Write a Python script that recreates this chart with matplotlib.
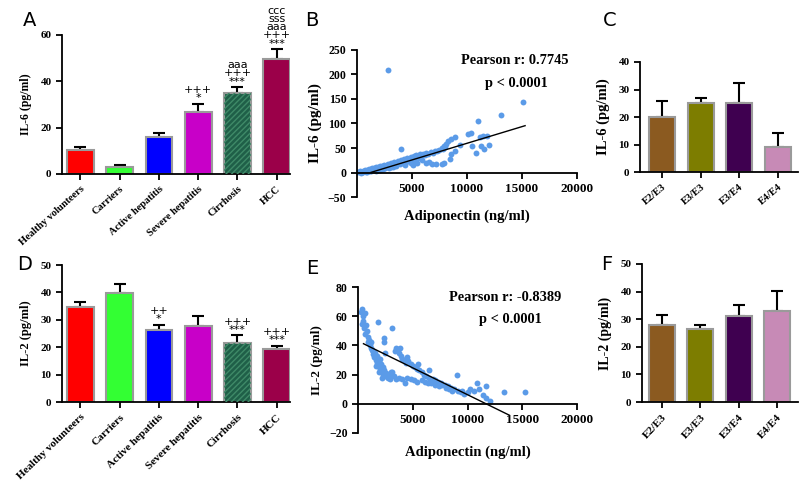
import numpy as np
import matplotlib.pyplot as plt

# --- data ---
groups = ['Healthy volunteers', 'Carriers', 'Active hepatitis', 'Severe hepatitis', 'Cirrhosis', 'HCC']
group_colors = ['#ff0000', '#33ff33', '#0000ff', '#c800c8', '#1f5f48', '#9b0049']
genotypes = ['E2/E3', 'E3/E3', 'E3/E4', 'E4/E4']
geno_colors = ['#8b5a20', '#7d7d00', '#3f0050', '#c78ab6']

il6_mean = [10.4, 3.2, 15.8, 26.6, 34.8, 49.5]
il6_top = [11.8, 3.9, 17.8, 30.2, 37.4, 53.8]
il6_notes = [[], [], [], ['*', '+++'], ['***', '+++', 'aaa'], ['***', '+++', 'aaa', 'sss', 'ccc']]

il2_mean = [34.5, 39.7, 26.3, 27.7, 21.7, 19.2]
il2_top = [36.5, 43.0, 28.2, 31.5, 24.3, 20.6]
il2_notes = [[], [], ['*', '++'], [], ['***', '+++'], ['***', '+++']]

geno_il6_mean = [20.0, 25.0, 25.2, 9.2]
geno_il6_top = [26.0, 27.0, 32.5, 14.3]
geno_il2_mean = [28.0, 26.5, 31.2, 33.0]
geno_il2_top = [31.5, 27.8, 35.0, 40.3]

# adiponectin vs IL-6 (panel B)
b_x = [150, 300, 400, 500, 600, 700, 800, 900, 1000, 1100, 1200, 1300, 1400, 1500, 1600, 1700,
       1800, 1900, 2000, 2100, 2200, 2300, 2400, 2500, 2600, 2700, 2800, 2900, 3000, 3100, 3200,
       3300, 3400, 3500, 3600, 3700, 3800, 3900, 4000, 4100, 4200, 4300, 4400, 4500, 4600, 4700,
       4800, 4900, 5000, 5200, 5300, 5400, 5600, 5700, 5800, 6000, 6200, 6300, 6500, 6700, 6900,
       7100, 7300, 7500, 7700, 7800, 7900, 8000, 8100, 8300, 8600, 8900, 9400,
       5100, 5500, 5900, 6300, 6600, 6800, 7200, 7700, 7900, 8450, 8600, 8900,
       10100, 10400, 11000, 11200, 11500, 11800, 10500, 11250, 12050, 11550, 10800, 13150, 15150,
       2850, 4050, 600, 900, 1300, 1700, 2100, 2600, 3100, 3600, 4400, 4900]
b_y = [1, 3, 0, 2, 4, 6, 2, 5, 4, 8, 3, 7, 10, 5, 9, 12,
       6, 11, 8, 14, 10, 13, 7, 16, 12, 15, 18, 10, 14, 20, 17,
       12, 22, 18, 15, 24, 20, 17, 26, 22, 19, 28, 24, 21, 30, 26,
       23, 31, 28, 33, 25, 35, 30, 37, 33, 38, 35, 40, 38, 42, 40,
       44, 43, 46, 50, 47, 55, 52, 58, 65, 69, 72, 57,
       16, 19, 26, 20, 22, 17, 17, 18, 20, 28, 37, 43,
       79, 81, 106, 72, 74, 75, 55, 55, 57, 47, 40, 118, 143,
       210, 47, 1, 2, 3, 4, 6, 9, 11, 13, 16, 19]
b_fit = (0.0068, -8.5)
b_fit_range = (1300, 15300)

# adiponectin vs IL-2 (panel E)
e_x = [300, 400, 450, 500, 350, 600, 550, 700, 650, 800, 900, 950, 1000, 1100, 1150, 1200,
       1300, 1350, 1400, 1500, 1550, 1600, 1700, 1750, 1800, 1900, 2000, 2100, 2150, 2250,
       2300, 2400, 2500, 2600, 2700, 2800, 2900, 3000, 1600, 1900, 2200, 2000,
       1850, 3100, 2400, 2400, 2500,
       3400, 3500, 3600, 3700, 3800, 3900, 4000, 4200, 4400, 4600, 4800, 5000, 5200, 5400,
       5600, 5800, 6000, 6200, 6500, 6800, 7000, 7300, 7600, 7900, 8200, 8500, 8800, 9100,
       9400, 9700, 6500, 5500, 4500,
       3100, 3300, 3500, 3700, 4000, 4270, 4500, 4800, 5100, 5400, 5800, 6100, 6400, 6700,
       7000, 7400, 7700, 8000, 8300, 8600,
       9000, 10200, 10600, 11000, 10900, 11700, 11400, 11700, 12000, 13350, 15200, 9500, 10000]
e_y = [63, 65, 60, 57, 55, 62, 52, 54, 48, 50, 46, 42, 44, 40, 38, 42,
       37, 34, 36, 32, 35, 30, 28, 33, 26, 30, 24, 27, 22, 25,
       20, 23, 19, 21, 18, 20, 17, 22, 26, 22, 18, 31,
       56, 52, 45, 42, 35,
       36, 38, 37, 35, 38, 33, 31, 30, 28, 29, 27, 26, 25, 24,
       23, 22, 20, 19, 18, 17, 16, 15, 14, 13, 12, 11, 10, 9,
       8, 7, 23, 27, 32,
       22, 19, 17, 18, 17, 14, 18, 17, 16, 15, 16, 15, 14, 14,
       13, 12, 13, 11, 10, 9,
       20, 10, 9, 10, 14, 12, 6, 4, 2, 8, 8, 9, 8]
e_fit = (-0.00368, 43.0)
e_fit_range = (500, 13800)

serif = 'Liberation Serif'
dot_color = '#5b9be8'

fig = plt.figure(figsize=(8, 4.94), dpi=100)


def style_axes(ax, ytick_size):
    for s in ['top', 'right']:
        ax.spines[s].set_visible(False)
    for s in ['left', 'bottom']:
        ax.spines[s].set_linewidth(1.3)
    ax.tick_params(direction='out', length=4, width=1.3)
    for lab in ax.get_yticklabels():
        lab.set_fontfamily(serif)
        lab.set_fontweight('bold')
        lab.set_fontsize(ytick_size)


def bar_panel(ax, cats, means, tops, colors, ylim, yticks, ylabel, xlim, notes=None, hatch_idx=None,
              rot=45, xsize=7.5, ysize=8, lsize=9):
    x = np.arange(len(cats))
    up = np.array(tops) - np.array(means)
    ax.errorbar(x, means, yerr=[np.zeros(len(x)), up], fmt='none', ecolor='black',
                elinewidth=1.5, capsize=4, capthick=1.5, zorder=1)
    ax.bar(x, means, width=0.68, color=colors, edgecolor='#9a9a9a', linewidth=1.5, zorder=2)
    if hatch_idx is not None:
        ax.bar(x[hatch_idx], means[hatch_idx], width=0.68, fill=False, edgecolor='#3f8a68',
               hatch='//////', linewidth=0, zorder=3)
    if notes:
        for i, n in enumerate(notes):
            if n:
                ax.text(x[i], tops[i] + ylim[1] * 0.005, '\n'.join(reversed(n)), ha='center', va='bottom',
                        fontsize=8, linespacing=0.78, family='DejaVu Sans')
    ax.set_xlim(*xlim)
    ax.set_ylim(*ylim)
    ax.set_yticks(yticks)
    ax.set_xticks(x)
    ax.set_xticklabels(cats, rotation=rot, ha='right', rotation_mode='anchor',
                       fontsize=xsize, fontfamily=serif, fontweight='bold')
    ax.set_ylabel(ylabel, fontsize=lsize, fontfamily=serif, fontweight='bold', labelpad=6)
    style_axes(ax, ysize)
    ax.spines['left'].set_bounds(ylim[0], yticks[-1])


def scatter_panel(ax, xs, ys, fit, fit_range, ylim, yticks, ylabel, r_text, rx, px, lsize):
    ax.scatter(xs, ys, s=18, color=dot_color, linewidths=0, zorder=2)
    fx = np.array(fit_range)
    ax.plot(fx, fit[0] * fx + fit[1], color='black', lw=1, zorder=3)
    ax.set_xlim(0, 20000)
    ax.set_ylim(*ylim)
    ax.set_yticks(yticks)
    ax.set_xticks([5000, 10000, 15000, 20000])
    ax.spines['bottom'].set_position(('data', 0))
    style_axes(ax, 8.5)
    for lab in ax.get_xticklabels():
        lab.set_fontfamily(serif)
        lab.set_fontweight('bold')
        lab.set_fontsize(9.5)
    ax.set_xlabel('Adiponectin (ng/ml)', fontsize=10.5, fontfamily=serif, fontweight='bold')
    ax.xaxis.set_label_coords(0.5, -0.085)
    ax.set_ylabel(ylabel, fontsize=lsize, fontfamily=serif, fontweight='bold', labelpad=4)
    ax.text(rx, 0.93, r_text, transform=ax.transAxes, ha='center', va='center',
            fontsize=10.4, fontfamily=serif, fontweight='bold')
    ax.text(px, 0.775, 'p < 0.0001', transform=ax.transAxes, ha='center', va='center',
            fontsize=10.4, fontfamily=serif, fontweight='bold')


# A
axA = fig.add_axes([0.0775, 0.6478, 0.285, 0.2814])
bar_panel(axA, groups, il6_mean, il6_top, group_colors, (0, 60), [0, 20, 40, 60],
          'IL-6 (pg/ml)', (-0.47, 5.34), il6_notes, hatch_idx=4, rot=42, xsize=7.5, lsize=8.5)

# B
axB = fig.add_axes([0.446, 0.6012, 0.275, 0.2976])
scatter_panel(axB, b_x, b_y, b_fit, b_fit_range, (-50, 250), [-50, 0, 50, 100, 150, 200, 250],
              'IL-6 (pg/ml)', 'Pearson r: 0.7745', 0.72, 0.727, 11)

# C
axC = fig.add_axes([0.8, 0.6518, 0.1975, 0.2227])
bar_panel(axC, genotypes, geno_il6_mean, geno_il6_top, geno_colors, (0, 40), [0, 10, 20, 30, 40],
          'IL-6 (pg/ml)', (-0.57, 3.52), rot=40, xsize=7.5, lsize=10.5)

# D
axD = fig.add_axes([0.0775, 0.1862, 0.285, 0.2773])
bar_panel(axD, groups, il2_mean, il2_top, group_colors, (0, 50), [0, 10, 20, 30, 40, 50],
          'IL-2 (pg/ml)', (-0.47, 5.34), il2_notes, hatch_idx=4, rot=44, xsize=8, lsize=9)

# E
axE = fig.add_axes([0.4475, 0.1235, 0.274, 0.2955])
scatter_panel(axE, e_x, e_y, e_fit, e_fit_range, (-20, 80), [-20, 0, 20, 40, 60, 80],
              'IL-2 (pg/ml)', 'Pearson r: -0.8389', 0.67, 0.694, 9.5)

# F
axF = fig.add_axes([0.8025, 0.1862, 0.195, 0.2794])
bar_panel(axF, genotypes, geno_il2_mean, geno_il2_top, geno_colors, (0, 50), [0, 10, 20, 30, 40, 50],
          'IL-2 (pg/ml)', (-0.52, 3.55), rot=47, xsize=8, lsize=10)

# panel letters
for lab, (px, py) in zip('ABCDEF', [(30, 20), (312, 20), (610, 20), (25, 265), (312, 268), (607, 265)]):
    fig.text(px / 800, 1 - py / 494, lab, fontsize=14, family='DejaVu Sans', ha='center', va='center')

fig.savefig('out.png', dpi=100)
